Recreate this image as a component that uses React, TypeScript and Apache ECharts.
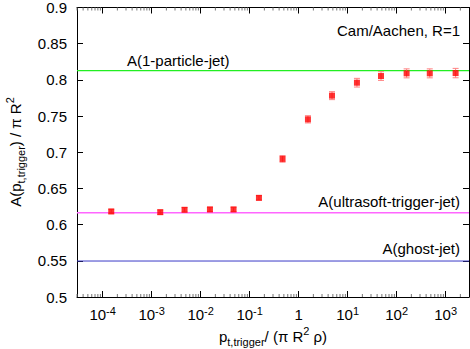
import React, { useEffect, useRef } from 'react';
import * as echarts from 'echarts';

// ---- data ----
const xValues = [1.5e-4, 1.5e-3, 4.7e-3, 1.55e-2, 4.7e-2, 0.155, 0.47, 1.55, 4.8, 15.5, 48, 160, 475, 1600];
const yValues = [0.6182, 0.6172, 0.6205, 0.621, 0.621, 0.637, 0.6908, 0.7455, 0.7782, 0.7961, 0.8053, 0.809, 0.809, 0.8094];
const yErrors = [0.003, 0.003, 0.003, 0.003, 0.003, 0.003, 0.0045, 0.005, 0.0055, 0.006, 0.006, 0.0062, 0.0062, 0.0065];

const onePartArea = 0.8127;
const ultrasoftArea = 0.6164;
const ghostArea = 0.5497;

const xMin = 3e-5;
const xMax = 3e3;
const yMin = 0.5;
const yMax = 0.9;
const yStep = 0.05;

const xTickExponents = [-4, -3, -2, -1, 0, 1, 2, 3];
const minorMultipliers = [2, 3, 4, 5, 6, 7, 8, 9];
const minorDecades = [-5, -4, -3, -2, -1, 0, 1, 2, 3];

const FONT = '"Liberation Sans", Arial, Helvetica, sans-serif';

export default function App() {
  const ref = useRef<HTMLDivElement>(null);

  useEffect(() => {
    if (!ref.current) return;
    const chart = echarts.init(ref.current, undefined, { renderer: 'svg' });

    const minorTicks: number[] = [];
    minorDecades.forEach((d) => {
      minorMultipliers.forEach((m) => {
        const v = m * Math.pow(10, d);
        if (v > xMin * 0.999 && v < xMax * 0.999) minorTicks.push(v);
      });
    });

    const xLabel = (v: number) => {
      const e = Math.round(Math.log10(v));
      if (Math.abs(v / Math.pow(10, e) - 1) > 1e-6) return '';
      if (xTickExponents.indexOf(e) < 0) return '';
      if (e === 0) return '{b|1}';
      return '{b|10}{s|' + e + '}';
    };

    const hline = (level: number, color: string, width: number) => ({
      type: 'line',
      data: [[xMin, level], [xMax, level]],
      symbol: 'none',
      lineStyle: { color, width },
      silent: true,
      z: 1,
    });

    const option: any = {
      animation: false,
      backgroundColor: '#ffffff',
      grid: { left: 77, right: 1, top: 7, bottom: 52 },
      xAxis: [
        {
          type: 'log',
          min: xMin,
          max: xMax,
          logBase: 10,
          position: 'bottom',
          axisLine: { show: true, lineStyle: { color: '#000', width: 1 } },
          axisTick: { show: true, inside: true, length: 6, lineStyle: { color: '#000' } },
          splitLine: { show: false },
          minorTick: { show: false },
          axisLabel: {
            show: true,
            showMinLabel: false,
            showMaxLabel: false,
            margin: 8,
            formatter: xLabel,
            color: '#000',
            rich: {
              b: { fontSize: 15, fontFamily: FONT, color: '#000', lineHeight: 19, verticalAlign: 'middle' },
              s: { fontSize: 11, fontFamily: FONT, color: '#000', lineHeight: 19, verticalAlign: 'top' },
            },
          },
        },
        {
          type: 'log',
          min: xMin,
          max: xMax,
          logBase: 10,
          position: 'top',
          axisLine: { show: true, lineStyle: { color: '#000', width: 1 } },
          axisTick: { show: true, inside: true, length: 6, lineStyle: { color: '#000' } },
          splitLine: { show: false },
          axisLabel: { show: false },
        },
      ],
      yAxis: [
        {
          type: 'value',
          min: yMin,
          max: yMax,
          interval: yStep,
          position: 'left',
          axisLine: { show: true, lineStyle: { color: '#000', width: 1 } },
          axisTick: { show: true, inside: true, length: 6, lineStyle: { color: '#000' } },
          splitLine: { show: false },
          axisLabel: { fontSize: 15, fontFamily: FONT, color: '#000', margin: 10 },
        },
        {
          type: 'value',
          min: yMin,
          max: yMax,
          interval: yStep,
          position: 'right',
          axisLine: { show: true, lineStyle: { color: '#000', width: 1 } },
          axisTick: { show: true, inside: true, length: 6, lineStyle: { color: '#000' } },
          splitLine: { show: false },
          axisLabel: { show: false },
        },
      ],
      series: [
        hline(onePartArea, '#22ee22', 1.2),
        hline(ultrasoftArea, '#ff66ff', 1.5),
        hline(ghostArea, '#3a3ac8', 1),
        {
          type: 'custom',
          silent: true,
          z: 2,
          data: minorTicks.map((v) => [v]),
          encode: { x: 0 },
          renderItem: (params: any, api: any) => {
            const v = api.value(0);
            const b = api.coord([v, yMin]);
            const t = api.coord([v, yMax]);
            const st = { stroke: '#777', lineWidth: 1 };
            return {
              type: 'group',
              children: [
                { type: 'line', shape: { x1: b[0], y1: b[1], x2: b[0], y2: b[1] - 3 }, style: st },
                { type: 'line', shape: { x1: t[0], y1: t[1], x2: t[0], y2: t[1] + 3 }, style: st },
              ],
            };
          },
        },
        {
          type: 'custom',
          silent: true,
          z: 3,
          data: xValues.map((x, i) => [x, yValues[i], yErrors[i]]),
          encode: { x: 0, y: 1 },
          renderItem: (params: any, api: any) => {
            const x = api.value(0);
            const y = api.value(1);
            const e = api.value(2);
            const top = api.coord([x, y + e]);
            const bot = api.coord([x, y - e]);
            const cw = 3;
            const st = { stroke: '#ff8080', lineWidth: 1 };
            return {
              type: 'group',
              children: [
                { type: 'line', shape: { x1: top[0], y1: top[1], x2: bot[0], y2: bot[1] }, style: st },
                { type: 'line', shape: { x1: top[0] - cw, y1: top[1], x2: top[0] + cw, y2: top[1] }, style: st },
                { type: 'line', shape: { x1: bot[0] - cw, y1: bot[1], x2: bot[0] + cw, y2: bot[1] }, style: st },
              ],
            };
          },
        },
        {
          type: 'scatter',
          data: xValues.map((x, i) => [x, yValues[i]]),
          symbol: 'rect',
          symbolSize: 6,
          itemStyle: { color: '#ff0000' },
          z: 4,
        },
      ],
      graphic: [
        {
          type: 'text',
          x: 127,
          y: 60,
          style: { text: 'A(1-particle-jet)', fontSize: 15, fontFamily: FONT, fill: '#000', align: 'left', verticalAlign: 'middle' },
        },
        {
          type: 'text',
          x: 460,
          y: 30,
          style: { text: 'Cam/Aachen, R=1', fontSize: 15, fontFamily: FONT, fill: '#000', align: 'right', verticalAlign: 'middle' },
        },
        {
          type: 'text',
          x: 460,
          y: 201,
          style: { text: 'A(ultrasoft-trigger-jet)', fontSize: 15, fontFamily: FONT, fill: '#000', align: 'right', verticalAlign: 'middle' },
        },
        {
          type: 'text',
          x: 460,
          y: 248,
          style: { text: 'A(ghost-jet)', fontSize: 15, fontFamily: FONT, fill: '#000', align: 'right', verticalAlign: 'middle' },
        },
        {
          type: 'text',
          x: 15,
          y: 152,
          rotation: Math.PI / 2,
          style: {
            text: '{m|A(p}{sub|t,trigger}{m|) / π R}{sup|2}',
            align: 'center',
            verticalAlign: 'middle',
            fill: '#000',
            rich: {
              m: { fontSize: 15, fontFamily: FONT, fill: '#000', lineHeight: 22, verticalAlign: 'middle' },
              sub: { fontSize: 11, fontFamily: FONT, fill: '#000', lineHeight: 22, verticalAlign: 'bottom' },
              sup: { fontSize: 11, fontFamily: FONT, fill: '#000', lineHeight: 22, verticalAlign: 'top' },
            },
          },
        },
        {
          type: 'text',
          x: 273,
          y: 336,
          style: {
            text: '{m|p}{sub|t,trigger}{m|/ (π R}{sup|2}{m| ρ)}',
            align: 'center',
            verticalAlign: 'middle',
            fill: '#000',
            rich: {
              m: { fontSize: 15, fontFamily: FONT, fill: '#000', lineHeight: 22, verticalAlign: 'middle' },
              sub: { fontSize: 11, fontFamily: FONT, fill: '#000', lineHeight: 22, verticalAlign: 'bottom' },
              sup: { fontSize: 11, fontFamily: FONT, fill: '#000', lineHeight: 22, verticalAlign: 'top' },
            },
          },
        },
      ],
    };

    chart.setOption(option);
    return () => chart.dispose();
  }, []);

  return (
    <div
      ref={ref}
      style={{ position: 'fixed', left: 0, top: 0, width: 470, height: 349, background: '#fff' }}
    />
  );
}
